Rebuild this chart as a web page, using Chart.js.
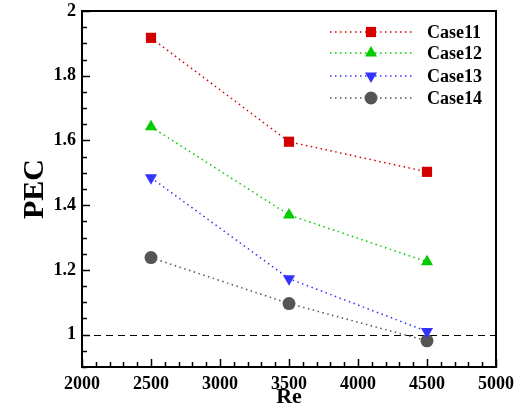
<!DOCTYPE html>
<html>
<head>
<meta charset="utf-8">
<script src="https://cdn.jsdelivr.net/npm/chart.js@4"></script>
<style>
  html, body { margin: 0; padding: 0; background: #fff; }
  #wrap { width: 515px; height: 408px; }
</style>
</head>
<body>
<div id="wrap"><canvas id="myChart"></canvas></div>
<script>
const re = [2500, 3500, 4500]
const case11 = [1.917, 1.596, 1.503]
const case12 = [1.642, 1.370, 1.225]
const case13 = [1.485, 1.173, 1.010]
const case14 = [1.238, 1.096, 0.981]
const yTicks = [1, 1.2, 1.4, 1.6, 1.8, 2]
const xTicks = [2000, 2500, 3000, 3500, 4000, 4500, 5000]

const serif = '"Liberation Serif", "Times New Roman", serif'

const toPoints = vals => re.map((x, i) => ({ x: x, y: vals[i] }))

const makeSet = (label, vals, color, style, radius, rot) => ({
  label: label,
  data: toPoints(vals),
  borderColor: color,
  backgroundColor: color,
  borderWidth: 1.5,
  borderDash: [1.5, 3.5],
  pointStyle: style,
  pointRadius: radius,
  pointHoverRadius: radius,
  pointBorderWidth: 0,
  pointRotation: rot,
  showLine: true
})

const datasets = [
  makeSet('Case11', case11, '#d40000', 'rect', 7.2, 0),
  makeSet('Case12', case12, '#00cc00', 'triangle', 7, 0),
  makeSet('Case13', case13, '#3333ff', 'triangle', 7, 180),
  makeSet('Case14', case14, '#555555', 'circle', 6.5, 0)
]

// frame, inward ticks, reference line and legend
const decor = {
  id: 'decor',
  beforeDatasetsDraw(chart) {
    const { ctx, chartArea: a, scales } = chart
    const y = scales.y
    ctx.save()
    ctx.strokeStyle = '#000'
    ctx.lineWidth = 1
    ctx.setLineDash([7, 5])
    const y1 = Math.round(y.getPixelForValue(1)) + 0.5
    ctx.beginPath()
    ctx.moveTo(a.left, y1)
    ctx.lineTo(a.right, y1)
    ctx.stroke()
    ctx.restore()
  },
  afterDatasetsDraw(chart) {
    const { ctx, chartArea: a, scales } = chart
    const x = scales.x, y = scales.y
    ctx.save()
    ctx.strokeStyle = '#000'
    ctx.setLineDash([])
    ctx.lineWidth = 1.5
    ctx.beginPath()
    for (let v = 2000; v <= 5000; v += 100) {
      const px = Math.round(x.getPixelForValue(v)) + 0.5
      const len = v % 500 === 0 ? 8 : 5
      ctx.moveTo(px, a.bottom)
      ctx.lineTo(px, a.bottom - len)
    }
    for (let k = 0; k <= 22; k++) {
      const v = 0.9 + k * 0.05
      const py = Math.round(y.getPixelForValue(v)) + 0.5
      const major = Math.abs(v * 5 - Math.round(v * 5)) < 1e-6
      const len = major ? 8 : 5
      ctx.moveTo(a.left, py)
      ctx.lineTo(a.left + len, py)
    }
    ctx.stroke()
    ctx.lineWidth = 2
    ctx.strokeRect(a.left, a.top, a.right - a.left, a.bottom - a.top)

    // legend
    const lx0 = 330, lx1 = 412, mx = 371, tx = 427
    const rows = [32, 53, 76, 98]
    chart.data.datasets.forEach((ds, i) => {
      const ly = rows[i]
      ctx.strokeStyle = ds.borderColor
      ctx.lineWidth = 1.5
      ctx.setLineDash(ds.borderDash)
      ctx.beginPath()
      ctx.moveTo(lx0, ly)
      ctx.lineTo(lx1, ly)
      ctx.stroke()
      ctx.setLineDash([])
      ctx.fillStyle = ds.backgroundColor
      Chart.helpers.drawPoint(ctx, {
        pointStyle: ds.pointStyle,
        radius: ds.pointRadius,
        rotation: ds.pointRotation,
        borderWidth: 0
      }, mx, ly)
      ctx.fillStyle = '#000'
      ctx.font = 'bold 18px ' + serif
      ctx.textAlign = 'left'
      ctx.textBaseline = 'middle'
      ctx.fillText(ds.label, tx, ly + 1)
    })
    ctx.restore()
  }
}

const ctx = document.getElementById('myChart').getContext('2d')
const chart = new Chart(ctx, {
  type: 'scatter',
  data: { datasets: datasets },
  options: {
    responsive: true,
    maintainAspectRatio: false,
    animation: false,
    layout: { padding: { top: 11, right: 19, left: 0, bottom: 0 } },
    plugins: {
      legend: { display: false },
      tooltip: { enabled: false }
    },
    scales: {
      x: {
        type: 'linear',
        min: 2000,
        max: 5000,
        afterBuildTicks: s => { s.ticks = xTicks.map(v => ({ value: v })) },
        afterFit: s => { s.height = 41; s.paddingLeft = 0; s.paddingRight = 0 },
        grid: { display: false, drawTicks: false },
        border: { display: false },
        ticks: {
          padding: 7,
          color: '#000',
          font: { family: serif, weight: 'bold', size: 18 },
          callback: v => String(v)
        },
        title: {
          display: true,
          text: 'Re',
          color: '#000',
          padding: { top: 0, bottom: -3 },
          font: { family: serif, weight: 'bold', size: 22 }
        }
      },
      y: {
        min: 0.9,
        max: 2,
        afterBuildTicks: s => { s.ticks = yTicks.map(v => ({ value: v })) },
        afterFit: s => { s.width = 82; s.paddingTop = 0; s.paddingBottom = 0 },
        grid: { display: false, drawTicks: false },
        border: { display: false },
        ticks: {
          padding: 6,
          color: '#000',
          font: { family: serif, weight: 'bold', size: 18 },
          callback: v => String(Math.round(v * 10) / 10)
        },
        title: {
          display: true,
          text: 'PEC',
          color: '#000',
          padding: { top: 17, bottom: 0 },
          font: { family: serif, weight: 'bold', size: 30 }
        }
      }
    }
  },
  plugins: [decor]
})
</script>
</body>
</html>
